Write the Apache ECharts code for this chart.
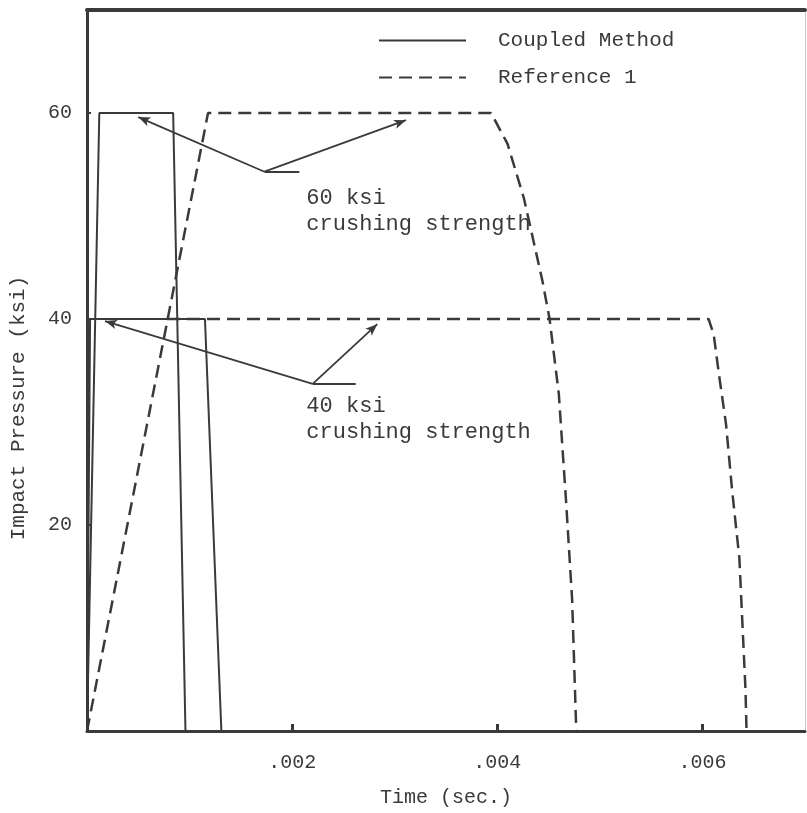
<!DOCTYPE html>
<html>
<head>
<meta charset="utf-8">
<script src="https://cdn.jsdelivr.net/npm/echarts@6/dist/echarts.min.js"></script>
<style>
html,body{margin:0;padding:0;background:#fff;}
#chart{width:807px;height:813px;}
</style>
</head>
<body>
<div id="chart"></div>
<script>
// Coupled Method, 60 ksi crushing strength: [time (sec), pressure (ksi)]
var coupled60 = [[0, 0], [0.00012, 60], [0.00084, 60], [0.00096, 0]];
// Coupled Method, 40 ksi crushing strength
var coupled40 = [[0, 0], [0.00003, 40], [0.00115, 40], [0.00131, 0]];
// Reference 1, 60 ksi crushing strength
var reference60 = [[0, 0], [0.00118, 60], [0.00394, 60], [0.00410, 57], [0.00426, 51.7],
  [0.00444, 43.7], [0.00451, 40], [0.00460, 32.7], [0.00467, 22.4], [0.00473, 12.7], [0.00477, 0]];
// Reference 1, 40 ksi crushing strength
var reference40 = [[0.00078, 40], [0.00606, 40], [0.00611, 38.5], [0.00616, 34.7], [0.00623, 29.8],
  [0.00629, 23.3], [0.00636, 16.8], [0.00642, 4.0], [0.00643, 0]];

var xTicks = [0.002, 0.004, 0.006];
var yTicks = [20, 40, 60];

// annotation leader lines (data units): [from, to]
var note60Lines = [[[0.00173, 54.3], [0.00207, 54.3]], [[0.00173, 54.3], [0.00050, 59.6]], [[0.00173, 54.3], [0.00311, 59.3]]];
var note40Lines = [[[0.00220, 33.7], [0.00262, 33.7]], [[0.00220, 33.7], [0.000175, 39.8]], [[0.00220, 33.7], [0.00283, 39.5]]];
var note60Text = '60 ksi\ncrushing strength';
var note40Text = '40 ksi\ncrushing strength';
// where each note's text block starts (data units, top-left)
var note60Pos = [0.00209, 53.5];
var note40Pos = [0.00209, 33.3];

var FONT = '"Liberation Mono", "DejaVu Sans Mono", monospace';
var INK = '#3a3a3a';

var chart = echarts.init(document.getElementById('chart'), null, {renderer: 'canvas'});

function leader(lines) {
  return lines.map(function (l, i) {
    return [{coord: l[0], symbol: 'none'}, {coord: l[1], symbol: i === 0 ? 'none' : 'arrow', symbolSize: [7, 12]}];
  });
}

var solidStyle = {color: INK, width: 2, type: 'solid'};
var dashStyle = {color: INK, width: 2.5, type: [13, 7]};

chart.setOption({
  animation: false,
  backgroundColor: '#fff',
  textStyle: {fontFamily: FONT, color: INK},
  grid: {left: 87, top: 10, right: 2, bottom: 82, containLabel: false, outerBoundsMode: 'none'},
  legend: {
    data: ['Coupled Method', 'Reference 1'],
    orient: 'vertical',
    left: 373, top: 25,
    itemWidth: 87, itemHeight: 20, itemGap: 16,
    itemStyle: {opacity: 0},
    textStyle: {fontFamily: FONT, fontSize: 21, color: INK, padding: [6, 0, 0, 27]},
    selectedMode: false
  },
  xAxis: [{
    type: 'value', min: 0, max: 0.007, interval: 0.001,
    name: 'Time (sec.)', nameLocation: 'middle', nameGap: 57,
    nameTextStyle: {fontFamily: FONT, fontSize: 20, color: INK},
    axisLine: {show: true, onZero: false, lineStyle: {color: INK, width: 3}},
    axisTick: {show: true, inside: true, length: 7, lineStyle: {color: INK, width: 3},
      customValues: xTicks},
    axisLabel: {show: true, margin: 22, fontFamily: FONT, fontSize: 20, color: INK,
      customValues: xTicks,
      formatter: function (v) { return v.toFixed(3).replace(/^0/, ''); }},
    splitLine: {show: false}
  }, {
    type: 'value', min: 0, max: 0.007, position: 'top',
    axisLine: {show: true, onZero: false, lineStyle: {color: INK, width: 4}},
    axisTick: {show: false}, axisLabel: {show: false}, splitLine: {show: false}
  }],
  yAxis: [{
    type: 'value', min: 0, max: 70, interval: 10,
    axisLine: {show: true, onZero: false, lineStyle: {color: INK, width: 3}},
    axisTick: {show: true, inside: true, length: 4, lineStyle: {color: INK, width: 2},
      customValues: yTicks},
    axisLabel: {show: true, margin: 15, fontFamily: FONT, fontSize: 20, color: INK,
      customValues: yTicks},
    splitLine: {show: false}
  }, {
    type: 'value', min: 0, max: 70, position: 'right',
    axisLine: {show: true, onZero: false, lineStyle: {color: '#c4c4c4', width: 1}},
    axisTick: {show: false}, axisLabel: {show: false}, splitLine: {show: false}
  }],
  graphic: [{
    type: 'text', x: 18, y: 408, rotation: Math.PI / 2,
    style: {text: 'Impact Pressure (ksi)', font: '21px ' + FONT, fill: INK, align: 'center', verticalAlign: 'middle'}
  }],
  series: [
    {name: 'Coupled Method', type: 'line', data: coupled60, symbol: 'none', lineStyle: solidStyle, itemStyle: {color: INK}, z: 3},
    {name: 'Coupled Method', type: 'line', data: coupled40, symbol: 'none', lineStyle: solidStyle, itemStyle: {color: INK}, z: 3},
    {name: 'Reference 1', type: 'line', data: reference60, symbol: 'none', lineStyle: dashStyle, itemStyle: {color: INK}, z: 2},
    {name: 'Reference 1', type: 'line', data: reference40, symbol: 'none', lineStyle: dashStyle, itemStyle: {color: INK}, z: 2},
    {name: 'notes', type: 'line', data: [], symbol: 'none',
      markLine: {silent: true, animation: false, label: {show: false},
        lineStyle: {color: INK, width: 1.8, type: 'solid'},
        data: leader(note60Lines).concat(leader(note40Lines))},
      markPoint: {silent: true, symbol: 'rect', symbolSize: 0,
        data: [
          {coord: note60Pos, value: note60Text},
          {coord: note40Pos, value: note40Text}
        ],
        label: {show: true, position: 'insideTopLeft', align: 'left', verticalAlign: 'top', offset: [0, 0],
          fontFamily: FONT, fontSize: 22, lineHeight: 26, color: INK,
          formatter: function (p) { return p.value; }}}
    }
  ]
});
</script>
</body>
</html>
